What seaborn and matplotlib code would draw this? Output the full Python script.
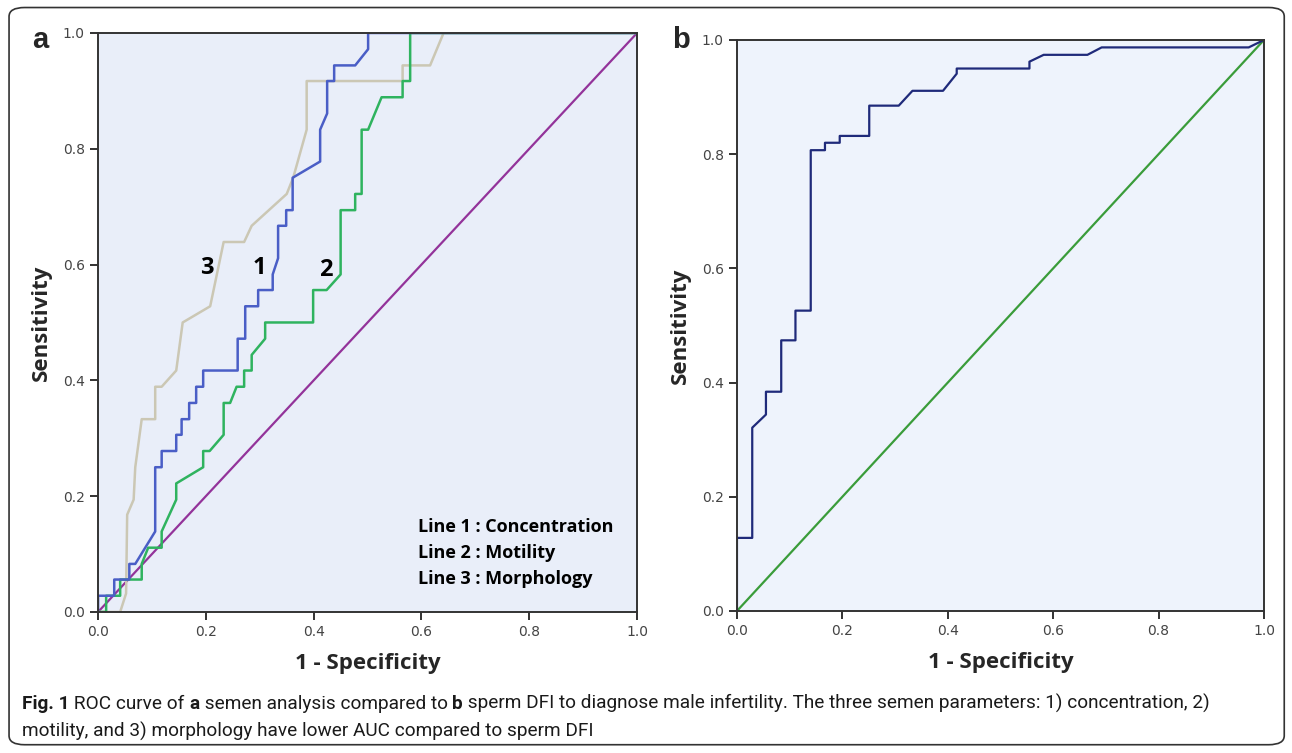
import pandas as pd
import seaborn as sns
import matplotlib.pyplot as plt
from matplotlib.patches import FancyBboxPatch

# ROC points (1 - specificity, sensitivity)
conc_fpr = [0, 0, 0.030, 0.030, 0.058, 0.058, 0.069, 0.106, 0.106, 0.118, 0.118, 0.145, 0.145,
            0.155, 0.155, 0.169, 0.169, 0.182, 0.182, 0.195, 0.195, 0.259, 0.259, 0.273, 0.273,
            0.297, 0.297, 0.324, 0.324, 0.334, 0.334, 0.349, 0.349, 0.361, 0.361, 0.412, 0.412,
            0.425, 0.425, 0.438, 0.438, 0.477, 0.501, 0.501, 1.0]
conc_tpr = [0, 0.028, 0.028, 0.056, 0.056, 0.083, 0.083, 0.139, 0.250, 0.250, 0.278, 0.278, 0.306,
            0.306, 0.333, 0.333, 0.361, 0.361, 0.389, 0.389, 0.417, 0.417, 0.472, 0.472, 0.528,
            0.528, 0.556, 0.556, 0.583, 0.611, 0.667, 0.667, 0.694, 0.694, 0.750, 0.778, 0.833,
            0.861, 0.917, 0.917, 0.944, 0.944, 0.972, 1.0, 1.0]

mot_fpr = [0, 0.015, 0.015, 0.041, 0.041, 0.081, 0.081, 0.093, 0.118, 0.118, 0.145, 0.145, 0.195,
           0.195, 0.207, 0.233, 0.233, 0.245, 0.257, 0.271, 0.271, 0.285, 0.285, 0.310, 0.310,
           0.399, 0.399, 0.424, 0.450, 0.450, 0.477, 0.477, 0.489, 0.489, 0.501, 0.526, 0.565,
           0.565, 0.579, 0.579, 1.0]
mot_tpr = [0, 0, 0.028, 0.028, 0.056, 0.056, 0.083, 0.111, 0.111, 0.139, 0.194, 0.222, 0.250,
           0.278, 0.278, 0.306, 0.361, 0.361, 0.389, 0.389, 0.417, 0.417, 0.444, 0.472, 0.500,
           0.500, 0.556, 0.556, 0.583, 0.694, 0.694, 0.722, 0.722, 0.833, 0.833, 0.889, 0.889,
           0.917, 0.917, 1.0, 1.0]

morph_fpr = [0, 0.041, 0.052, 0.054, 0.066, 0.069, 0.081, 0.106, 0.106, 0.118, 0.145, 0.157,
             0.208, 0.233, 0.271, 0.285, 0.350, 0.362, 0.387, 0.387, 0.565, 0.565, 0.616, 0.641, 1.0]
morph_tpr = [0, 0, 0.032, 0.168, 0.194, 0.250, 0.333, 0.333, 0.389, 0.389, 0.417, 0.500,
             0.528, 0.639, 0.639, 0.667, 0.722, 0.750, 0.833, 0.917, 0.917, 0.944, 0.944, 1.0, 1.0]

dfi_fpr = [0, 0, 0.029, 0.029, 0.055, 0.055, 0.084, 0.084, 0.111, 0.111, 0.140, 0.140, 0.167,
           0.167, 0.195, 0.195, 0.251, 0.251, 0.307, 0.333, 0.391, 0.417, 0.417, 0.555, 0.555,
           0.582, 0.665, 0.692, 0.971, 1.0]
dfi_tpr = [0, 0.128, 0.128, 0.321, 0.344, 0.384, 0.384, 0.474, 0.474, 0.526, 0.526, 0.807, 0.807,
           0.820, 0.820, 0.832, 0.832, 0.885, 0.885, 0.911, 0.911, 0.941, 0.950, 0.950, 0.962,
           0.974, 0.974, 0.987, 0.987, 1.0]

ref_line = [0, 1]

line_labels = ['Line 1 : Concentration', 'Line 2 : Motility', 'Line 3 : Morphology']
ticks = [0.0, 0.2, 0.4, 0.6, 0.8, 1.0]

sns.set_theme(style='ticks')
plt.rcParams['font.family'] = ['DejaVu Sans']

fig = plt.figure(figsize=(12.92, 7.53), dpi=100)
ax_a = fig.add_axes([0.0759, 0.1873, 0.4172, 0.7689])
ax_b = fig.add_axes([0.5704, 0.1886, 0.4079, 0.7583])

def draw(ax, x, y, color, lw=1.6):
    df = pd.DataFrame({'x': x, 'y': y})
    sns.lineplot(data=df, x='x', y='y', ax=ax, sort=False, estimator=None,
                 color=color, linewidth=lw)

# panel a
ax_a.set_facecolor('#e9eef9')
draw(ax_a, ref_line, ref_line, '#93339a')
draw(ax_a, morph_fpr, morph_tpr, '#cbc7b4', 1.8)
draw(ax_a, mot_fpr, mot_tpr, '#2fb35f', 1.8)
draw(ax_a, conc_fpr, conc_tpr, '#4a5ec6', 1.8)

for num, (tx, ty) in zip(['3', '1', '2'], [(0.202, 0.594), (0.300, 0.594), (0.423, 0.591)]):
    ax_a.text(tx, ty, num, fontsize=17, fontweight='bold', family='Open Sans',
              ha='center', va='center', color='black')
for i, lab in enumerate(line_labels):
    ax_a.text(0.594, 0.147 - i * 0.045, lab, fontsize=13, fontweight='bold',
              family='Open Sans', ha='left', va='center', color='black')

# panel b
ax_b.set_facecolor('#eef3fc')
draw(ax_b, ref_line, ref_line, '#3a9c3a')
draw(ax_b, dfi_fpr, dfi_tpr, '#1f2a7a', 1.6)

for ax in (ax_a, ax_b):
    ax.set_xlim(0, 1)
    ax.set_ylim(0, 1)
    ax.set_xticks(ticks)
    ax.set_yticks(ticks)
    ax.set_xticklabels([f'{t:.1f}' for t in ticks])
    ax.set_yticklabels([f'{t:.1f}' for t in ticks])
    ax.tick_params(direction='out', length=6, width=1.3, color='#222',
                   labelsize=10, labelcolor='#444')
    for s in ax.spines.values():
        s.set_visible(True)
        s.set_color('#333')
        s.set_linewidth(1.4)
    ax.set_xlabel('1 - Specificity', fontsize=16, fontweight='bold', family='Open Sans',
                  labelpad=10)
    ax.set_ylabel('Sensitivity', fontsize=16, fontweight='bold', family='Open Sans',
                  labelpad=8)
    ax.grid(False)

fig.text(0.031, 0.947, 'a', fontsize=21, fontweight='bold', family='Liberation Sans',
         ha='center', va='center')
fig.text(0.527, 0.947, 'b', fontsize=21, fontweight='bold', family='Liberation Sans',
         ha='center', va='center')

# rounded frame
fig.patches.append(FancyBboxPatch((0.007, 0.011), 0.987, 0.979, transform=fig.transFigure,
                                  boxstyle='round,pad=0,rounding_size=0.012',
                                  facecolor='none', edgecolor='#333', linewidth=1.2))

# caption with mixed bold parts, chained one after another
cap_kw = dict(fontsize=13.7, family='Roboto', color='#1a1a1a')
line1 = [('Fig. 1', 'bold'), (' ROC curve of ', 'normal'), ('a', 'bold'),
         (' semen analysis compared to ', 'normal'), ('b', 'bold'),
         (' sperm DFI to diagnose male infertility. The three semen parameters: 1) concentration, 2)',
          'normal')]
prev = fig.text(0.017, 0.058, line1[0][0], fontweight=line1[0][1], va='baseline', **cap_kw)
for s, w in line1[1:]:
    prev = fig.add_artist(plt.Annotation(s, xy=(1, 0), xycoords=prev, va='bottom', ha='left',
                                         fontweight=w, annotation_clip=False, **cap_kw))
fig.text(0.017, 0.021, 'motility, and 3) morphology have lower AUC compared to sperm DFI',
         va='baseline', **cap_kw)

fig.savefig('out.png', dpi=100)
